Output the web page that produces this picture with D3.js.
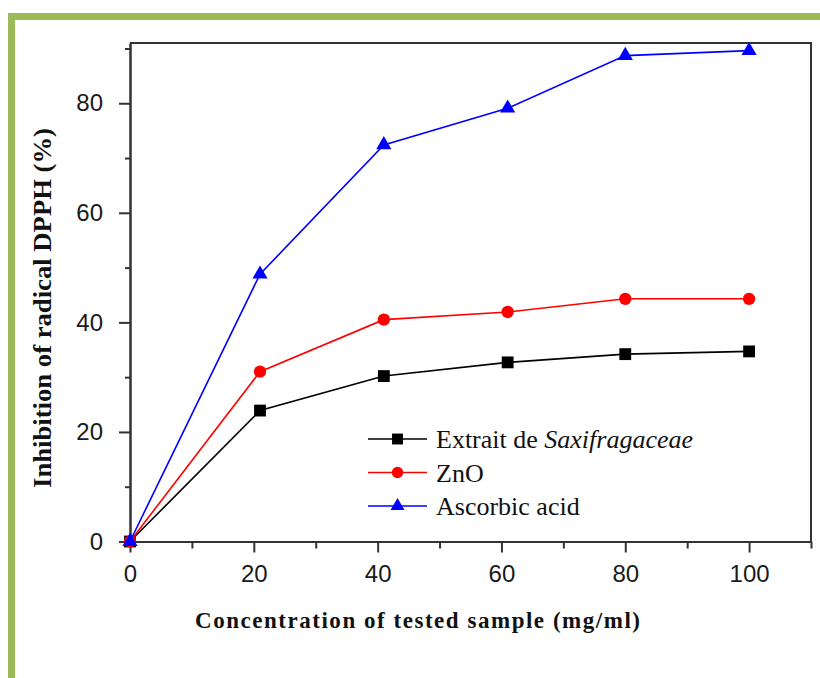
<!DOCTYPE html>
<html>
<head>
<meta charset="utf-8">
<script src="https://cdn.jsdelivr.net/npm/d3@7/dist/d3.min.js"></script>
<style>
  html, body { margin: 0; padding: 0; background: #fff; }
  svg { display: block; }
</style>
</head>
<body>
<svg id="chart" width="820" height="678"></svg>
<script>
// Concentration (mg/ml) at which each sample was measured
const concentrations = [0, 21, 41, 61, 80, 100];

// DPPH radical inhibition (%)
const extraitValues  = [0, 23.9, 30.2, 32.7, 34.2, 34.7];
const znoValues      = [0, 31.0, 40.5, 41.9, 44.3, 44.3];
const ascorbicValues = [0, 48.8, 72.4, 79.1, 88.7, 89.6];

const seriesNames = ["Extrait de ", "ZnO", "Ascorbic acid"];
const xMajorTicks = [0, 20, 40, 60, 80, 100];
const xMinorTicks = [10, 30, 50, 70, 90, 110];
const yMajorTicks = [0, 20, 40, 60, 80];
const yMinorTicks = [10, 30, 50, 70, 90];

const svg = d3.select("#chart");

// Green page frame
const frameGreen = "#9bbb59";
svg.append("rect").attr("x", 8).attr("y", 13).attr("width", 812).attr("height", 7).attr("fill", frameGreen);
svg.append("rect").attr("x", 8).attr("y", 13).attr("width", 7).attr("height", 665).attr("fill", frameGreen);

const plotLeft = 130, plotRight = 811, plotTop = 43, plotBottom = 541.5;
const x = d3.scaleLinear().domain([0, 110]).range([plotLeft, plotRight]);
const y = d3.scaleLinear().domain([0, 91]).range([plotBottom, plotTop]);

const axisColor = "#333";
const tickFont = "'Liberation Sans', Arial, sans-serif";

// Plot box (top and right edges)
svg.append("path")
  .attr("d", `M${plotLeft},${plotTop}H${plotRight}V${plotBottom}`)
  .attr("fill", "none").attr("stroke", axisColor).attr("stroke-width", 2);

function styleAxis(g) {
  g.select(".domain").attr("stroke", axisColor).attr("stroke-width", 2);
  g.selectAll(".tick line").attr("stroke", axisColor).attr("stroke-width", 2);
  g.selectAll(".tick text").attr("fill", "#1a1a1a")
    .style("font-family", tickFont).style("font-size", "24px");
}

// Bottom axis
svg.append("g").attr("transform", `translate(0,${plotBottom})`)
  .call(d3.axisBottom(x).tickValues(xMinorTicks).tickSize(7).tickSizeOuter(0).tickFormat(""))
  .call(styleAxis);
svg.append("g").attr("transform", `translate(0,${plotBottom})`)
  .call(d3.axisBottom(x).tickValues(xMajorTicks).tickSize(11).tickSizeOuter(0).tickPadding(12))
  .call(styleAxis);

// Left axis
svg.append("g").attr("transform", `translate(${plotLeft},0)`)
  .call(d3.axisLeft(y).tickValues(yMinorTicks).tickSize(5).tickSizeOuter(0).tickFormat(""))
  .call(styleAxis);
svg.append("g").attr("transform", `translate(${plotLeft},0)`)
  .call(d3.axisLeft(y).tickValues(yMajorTicks).tickSize(11).tickSizeOuter(0).tickPadding(16))
  .call(styleAxis);

// Axis titles
svg.append("text")
  .attr("x", 195).attr("y", 628)
  .attr("textLength", 445).attr("lengthAdjust", "spacing")
  .style("font-family", "'Liberation Serif', 'Times New Roman', serif")
  .style("font-weight", "bold").style("font-size", "23px").attr("fill", "#111")
  .text("Concentration of tested sample (mg/ml)");

svg.append("text")
  .attr("transform", "translate(51,488) rotate(-90)")
  .attr("textLength", 360).attr("lengthAdjust", "spacingAndGlyphs")
  .style("font-family", "'Liberation Serif', 'Times New Roman', serif")
  .style("font-weight", "bold").style("font-size", "26px").attr("fill", "#111")
  .text("Inhibition of radical DPPH (%)");

// Series definitions
const series = [
  { name: seriesNames[0], values: extraitValues, color: "#000000", symbol: d3.symbolSquare, size: 140 },
  { name: seriesNames[1], values: znoValues, color: "#ff0000", symbol: d3.symbolCircle, size: 120 },
  { name: seriesNames[2], values: ascorbicValues, color: "#0000ff", symbol: d3.symbolTriangle, size: 100 }
];

const line = d3.line().x(d => x(d[0])).y(d => y(d[1]));

series.forEach(s => {
  const pts = concentrations.map((c, i) => [c, s.values[i]]);
  svg.append("path").datum(pts)
    .attr("d", line).attr("fill", "none")
    .attr("stroke", s.color).attr("stroke-width", 1.6);
  svg.append("g").selectAll("path").data(pts).join("path")
    .attr("transform", d => `translate(${x(d[0])},${y(d[1])})`)
    .attr("d", d3.symbol(s.symbol, s.size))
    .attr("fill", s.color);
});

// Legend
const legend = svg.append("g").attr("transform", "translate(368,439)");
series.forEach((s, i) => {
  const row = legend.append("g").attr("transform", `translate(0,${i * 33.5})`);
  row.append("line").attr("x1", 0).attr("x2", 59).attr("y1", 0).attr("y2", 0)
    .attr("stroke", s.color).attr("stroke-width", 1.6);
  row.append("path").attr("transform", "translate(29.5,0)")
    .attr("d", d3.symbol(s.symbol, s.size * 0.85)).attr("fill", s.color);
  const t = row.append("text").attr("x", 68).attr("y", 9)
    .style("font-family", "'Liberation Serif', 'Times New Roman', serif")
    .style("font-size", "26px").attr("fill", "#111");
  t.append("tspan").text(s.name);
  if (i === 0) t.append("tspan").style("font-style", "italic").text("Saxifragaceae");
});
</script>
</body>
</html>
